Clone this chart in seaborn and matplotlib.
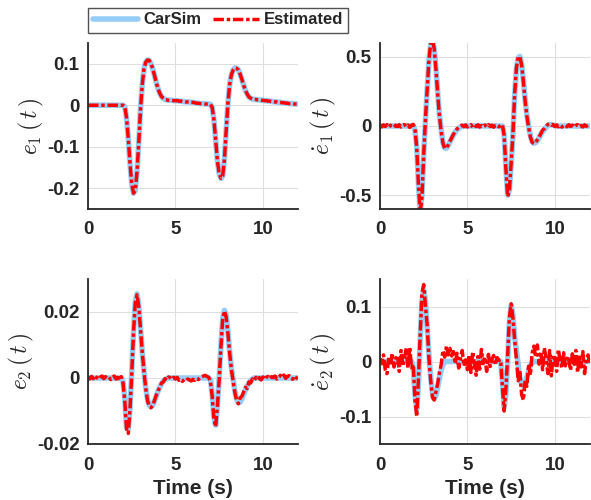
import numpy as np
import matplotlib
matplotlib.use('Agg')
import matplotlib.pyplot as plt
import seaborn as sns
from matplotlib.lines import Line2D

# time axis (s), 0.1 s sampling
t = np.round(np.arange(0, 12.01, 0.1), 1)

# e1(t): CarSim / estimated (overlap)
sim_e1 = [0, 0, 0, 0, 0, 0, 0, 0, 0, 0,
          0, 0, 0, 0, 0, 0, 0, 0, 0, 0,
          0, -0.003, -0.03, -0.08, -0.14, -0.19, -0.212, -0.205, -0.16, -0.09,
          -0.01, 0.05, 0.088, 0.104, 0.109, 0.108, 0.1, 0.088, 0.072, 0.055,
          0.04, 0.029, 0.021, 0.017, 0.014, 0.013, 0.012, 0.012, 0.012, 0.011,
          0.011, 0.011, 0.01, 0.01, 0.009, 0.009, 0.008, 0.008, 0.008, 0.007,
          0.007, 0.006, 0.005, 0.005, 0.004, 0.004, 0.004, 0.003, 0.003, 0.003,
          0.002, -0.005, -0.035, -0.085, -0.135, -0.165, -0.176, -0.17, -0.13, -0.06,
          0.005, 0.05, 0.074, 0.085, 0.09, 0.089, 0.085, 0.075, 0.062, 0.048,
          0.036, 0.027, 0.02, 0.017, 0.015, 0.014, 0.014, 0.013, 0.013, 0.012,
          0.012, 0.011, 0.011, 0.01, 0.01, 0.009, 0.009, 0.008, 0.008, 0.007,
          0.007, 0.006, 0.006, 0.005, 0.005, 0.004, 0.004, 0.004, 0.003, 0.003,
          0.003]
est_e1 = list(sim_e1)

# de1/dt
sim_de1 = [0, 0, 0, 0, 0, 0, 0, 0, 0, 0,
           0, 0, 0, 0, 0, 0, 0, 0, 0, 0,
           -0.03, -0.15, -0.42, -0.62, -0.5, -0.2, 0.04, 0.27, 0.47, 0.59,
           0.62, 0.56, 0.42, 0.24, 0.08, -0.03, -0.12, -0.158, -0.16, -0.14,
           -0.115, -0.09, -0.065, -0.045, -0.028, -0.017, -0.008, -0.002, 0, 0,
           0, 0, 0, 0, 0, 0, 0, 0, 0, 0,
           0, 0, 0, 0, 0, 0, 0, 0, 0, 0,
           0, -0.06, -0.3, -0.5, -0.46, -0.28, -0.07, 0.22, 0.41, 0.49,
           0.503, 0.45, 0.33, 0.19, 0.08, 0.0, -0.07, -0.11, -0.125, -0.12,
           -0.105, -0.085, -0.06, -0.04, -0.025, -0.01, 0.004, 0.01, 0.01, 0.006,
           0.003, 0, 0, 0, 0, 0, 0, 0, 0, 0,
           0, 0, 0, 0, 0, 0, 0, 0, 0, 0,
           0]
est_de1 = [0.004, -0.006, 0.008, -0.003, 0.01, -0.008, 0.005, 0.002, -0.009, 0.006,
           -0.004, 0.009, -0.007, 0.003, 0.011, -0.005, 0.007, -0.01, 0.004, 0.012,
           -0.02, -0.16, -0.43, -0.63, -0.51, -0.2, 0.05, 0.27, 0.48, 0.6,
           0.62, 0.56, 0.41, 0.23, 0.07, -0.04, -0.125, -0.162, -0.158, -0.138,
           -0.11, -0.085, -0.06, -0.04, -0.022, -0.01, 0.002, 0.006, -0.005, 0.008,
           -0.007, 0.004, 0.01, -0.009, 0.005, -0.004, 0.009, -0.008, 0.003, -0.006,
           0.007, -0.005, 0.01, -0.003, 0.006, -0.009, 0.004, 0.008, -0.006, 0.005,
           0.01, -0.07, -0.31, -0.51, -0.47, -0.27, -0.06, 0.23, 0.42, 0.5,
           0.5, 0.44, 0.32, 0.18, 0.07, -0.01, -0.08, -0.118, -0.128, -0.118,
           -0.1, -0.08, -0.055, -0.03, -0.02, -0.003, 0.012, 0.018, 0.006, 0.011,
           -0.004, 0.008, -0.006, 0.005, -0.008, 0.003, 0.007, -0.005, 0.009, -0.003,
           0.006, -0.008, 0.004, 0.01, -0.006, 0.003, -0.007, 0.008, -0.002, 0.005,
           0.004]

# e2(t)
sim_e2 = [0, 0, 0, 0, 0, 0, 0, 0, 0, 0,
          0, 0, 0, 0, 0, 0, 0, 0, 0, 0,
          -0.001, -0.006, -0.015, -0.0155, -0.009, 0.002, 0.014, 0.023, 0.0255, 0.022,
          0.015, 0.008, 0.002, -0.003, -0.0065, -0.0083, -0.0087, -0.0082, -0.007, -0.0055,
          -0.004, -0.0028, -0.0018, -0.001, -0.0005, -0.0002, 0, 0, 0, 0,
          0, 0, 0, 0, 0, 0, 0, 0, 0, 0,
          0, 0, 0, 0, 0, 0, 0, 0, 0, 0,
          -0.0005, -0.005, -0.012, -0.0143, -0.008, 0.0, 0.01, 0.018, 0.0205, 0.019,
          0.014, 0.008, 0.003, -0.0005, -0.004, -0.0065, -0.0075, -0.0073, -0.0063, -0.005,
          -0.0037, -0.0025, -0.0015, -0.0008, -0.0003, 0, 0, 0, 0, 0,
          0, 0, 0, 0, 0, 0, 0, 0, 0, 0,
          0, 0, 0, 0, 0, 0, 0, 0, 0, 0,
          0]
est_e2 = [0.0002, -0.0003, 0.0005, -0.0002, 0.0008, 0.0001, -0.0004, 0.0003, 0.0006, -0.0002,
          0.0004, -0.0001, 0.0002, -0.0005, 0.0003, 0.0006, -0.0003, 0.0002, -0.0006, 0.0004,
          -0.0015, -0.007, -0.0155, -0.0168, -0.0095, 0.0015, 0.0138, 0.0228, 0.0252, 0.0218,
          0.0148, 0.0078, 0.0018, -0.0032, -0.0068, -0.0085, -0.009, -0.0083, -0.0068, -0.0052,
          -0.0038, -0.003, -0.0015, -0.0012, -0.0002, -0.0006, 0.0003, 0.0001, -0.0004, 0.0002,
          -0.0003, 0.0002, -0.0007, -0.0004, -0.001, -0.0005, -0.0008, -0.0003, -0.0006, -0.0009,
          -0.0004, -0.0007, -0.0002, -0.0005, 0.0001, 0.0004, 0.0006, 0.0008, 0.0005, 0.0002,
          -0.001, -0.0055, -0.0125, -0.0148, -0.0085, -0.0005, 0.0095, 0.0178, 0.0203, 0.0185,
          0.0135, 0.0075, 0.0025, -0.001, -0.0045, -0.0068, -0.0078, -0.006, -0.0055, -0.0042,
          -0.0028, -0.0032, -0.0012, -0.0015, -0.0003, -0.0008, 0.0002, -0.0005, 0.0001, -0.0006,
          0.0003, -0.0004, 0.0002, 0.0005, -0.0002, 0.0004, 0.0001, 0.0006, -0.0003, 0.0003,
          0.0008, 0.0002, 0.0009, -0.0001, 0.0005, 0.0007, 0.0003, -0.0004, 0.0006, 0.0001,
          -0.0003]

# de2/dt
sim_de2 = [0, 0, 0, 0, 0, 0, 0, 0, 0, 0,
           0, 0, 0, 0, 0, 0, 0, 0, 0, -0.01,
           -0.06, -0.087, -0.04, 0.04, 0.11, 0.13, 0.11, 0.06, 0.012, -0.03,
           -0.058, -0.068, -0.062, -0.047, -0.03, -0.016, -0.006, 0, 0, 0,
           0, 0, 0, 0, 0, 0, 0, 0, 0, 0,
           0, 0, 0, 0, 0, 0, 0, 0, 0, 0,
           0, 0, 0, 0, 0, 0, 0, 0, 0, 0,
           -0.035, -0.083, -0.06, 0.0, 0.07, 0.102, 0.085, 0.045, 0.02, -0.004,
           -0.03, -0.042, -0.045, -0.039, -0.028, -0.017, -0.008, -0.002, 0, 0,
           0, 0, 0, 0, 0, 0, 0, 0, 0, 0,
           0, 0, 0, 0, 0, 0, 0, 0, 0, 0,
           0, 0, 0, 0, 0, 0, 0, 0, 0, 0,
           0]
est_de2 = [0.005, -0.004, 0.012, -0.015, -0.022, 0.008, -0.006, 0.015, -0.01, 0.004,
           0.011, -0.018, 0.02, -0.008, 0.006, 0.024, -0.012, 0.026, -0.011, -0.005,
           -0.07, -0.1, -0.03, 0.05, 0.125, 0.14, 0.1, 0.065, 0.005, -0.035,
           -0.065, -0.07, -0.055, -0.04, -0.02, -0.005, 0.02, 0.008, 0.028, 0.012,
           0.024, 0.01, 0.018, -0.004, 0.015, -0.012, 0.006, 0.02, -0.008, 0.003,
           -0.015, 0.012, -0.02, 0.018, -0.006, -0.025, 0.009, -0.014, 0.022, -0.004,
           0.008, -0.018, 0.013, -0.009, 0.004, 0.011, -0.006, 0.007, 0.002, 0.003,
           -0.045, -0.09, -0.05, 0.01, 0.08, 0.105, 0.08, 0.04, 0.005, -0.035,
           -0.02, -0.06, -0.07, -0.035, -0.045, -0.005, -0.025, 0.015, 0.028, 0.008,
           0.03, -0.005, 0.018, -0.015, 0.025, 0.004, -0.022, 0.02, -0.026, 0.012,
           0.006, -0.018, 0.022, 0.003, -0.012, 0.016, -0.008, 0.01, 0.002, -0.016,
           0.014, -0.005, 0.02, -0.02, 0.008, -0.01, 0.018, -0.022, 0.005, 0.012,
           -0.006]

sns.set_theme(style='white')
plt.rcParams['font.family'] = ['Liberation Sans', 'DejaVu Sans']
plt.rcParams['font.weight'] = 'bold'
plt.rcParams['mathtext.fontset'] = 'cm'

blue = '#96cdf8'
dark = '#262626'

fig = plt.figure(figsize=(5.91, 5.0), dpi=100)

panels = [
    ([0.149, 0.582, 0.355, 0.332], sim_e1, est_e1, r'$e_1\,(\,t\,)$', (-0.25, 0.15), [-0.2, -0.1, 0, 0.1], ['-0.2', '-0.1', '0', '0.1'], False),
    ([0.643, 0.582, 0.355, 0.332], sim_de1, est_de1, r'$\dot{e}_1\,(\,t\,)$', (-0.6, 0.6), [-0.5, 0, 0.5], ['-0.5', '0', '0.5'], False),
    ([0.149, 0.112, 0.355, 0.330], sim_e2, est_e2, r'$e_2\,(\,t\,)$', (-0.02, 0.03), [-0.02, 0, 0.02], ['-0.02', '0', '0.02'], True),
    ([0.643, 0.112, 0.355, 0.330], sim_de2, est_de2, r'$\dot{e}_2\,(\,t\,)$', (-0.15, 0.15), [-0.1, 0, 0.1], ['-0.1', '0', '0.1'], True),
]

for pos, sim, est, ylab, ylim, yt, ytl, show_x in panels:
    ax = fig.add_axes(pos)
    sns.lineplot(x=t, y=sim, color=blue, lw=4, ax=ax)
    sns.lineplot(x=t, y=est, color='red', lw=2.5, ax=ax)
    ax.lines[-1].set_dashes([3, 0.8, 1, 0.8])
    ax.set_xlim(0, 12)
    ax.set_ylim(*ylim)
    ax.set_xticks([0, 5, 10])
    ax.set_yticks(yt)
    ax.set_yticklabels(ytl)
    ax.grid(True, color='#dedede', lw=0.8)
    sns.despine(ax=ax)
    for s in ['left', 'bottom']:
        ax.spines[s].set_color(dark)
        ax.spines[s].set_linewidth(1.3)
    ax.tick_params(direction='in', length=3, width=1, colors=dark, labelsize=13.5)
    ax.tick_params(axis='x', pad=9)
    ax.tick_params(axis='y', pad=6)
    ax.set_ylabel(ylab, fontsize=17, color=dark, labelpad=1)
    if show_x:
        ax.set_xlabel('Time (s)', fontsize=15, fontweight='bold', color=dark, labelpad=4)
    else:
        ax.set_xlabel('')

handles = [Line2D([], [], color=blue, lw=4),
           Line2D([], [], color='red', lw=2.5, dashes=[3, 0.8, 1, 0.8])]
leg = fig.legend(handles, ['CarSim', 'Estimated'], loc='center',
                 bbox_to_anchor=(218 / 591, 1 - 20 / 500), ncol=2,
                 frameon=True, fancybox=False, edgecolor=dark,
                 prop={'weight': 'bold', 'size': 12},
                 handlelength=2.75, handletextpad=0.3, columnspacing=0.7,
                 borderpad=0.3)
leg.get_frame().set_linewidth(1.0)

fig.savefig('out.png', dpi=100)
